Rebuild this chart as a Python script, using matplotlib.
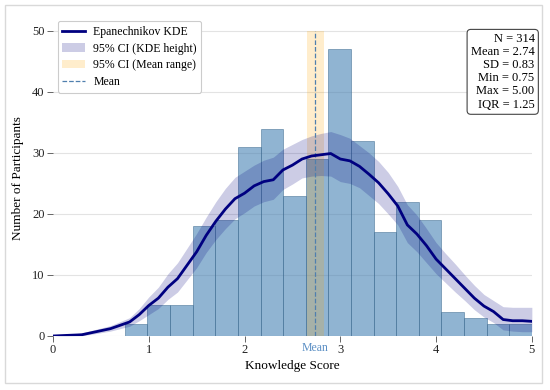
# -*- coding: utf-8 -*-
'''
知識分數分佈圖：直方圖 + Epanechnikov KDE
'''
import numpy as np
import matplotlib
matplotlib.use('Agg')
import matplotlib.pyplot as plt
from matplotlib.lines import Line2D
from matplotlib.patches import Patch, Rectangle

plt.rcParams['font.family'] = ['Liberation Serif', 'DejaVu Serif']

# --------- 直方圖 (18 bins, 0.75 ~ 5.00)
bin_lo = 0.75
bin_hi = 5.0
counts = [2, 5, 5, 18, 19, 31, 34, 23, 29, 47, 32, 17, 22, 19, 4, 3, 2, 2]

# --------- KDE 曲線與 95% CI
kde_x = [0, 0.15, 0.3, 0.45, 0.6, 0.8, 0.9, 1.0, 1.1, 1.2, 1.3, 1.4, 1.5, 1.6,
         1.7, 1.8, 1.9, 2.0, 2.1, 2.2, 2.3, 2.4, 2.5, 2.6, 2.7, 2.8, 2.9, 3.0,
         3.1, 3.2, 3.3, 3.4, 3.5, 3.6, 3.7, 3.8, 3.9, 4.0, 4.1, 4.2, 4.3, 4.4,
         4.5, 4.6, 4.7, 4.8, 4.9, 5.0]
kde_y = [0, 0.1, 0.2, 0.7, 1.2, 2.3, 3.5, 5.0, 6.2, 8.0, 9.4, 11.6, 13.8, 16.5,
         18.8, 20.8, 22.5, 23.4, 24.6, 25.3, 25.6, 27.2, 28.0, 29.0, 29.5, 29.7, 29.9, 29.0,
         28.7, 27.8, 26.5, 25.1, 23.3, 21.3, 18.2, 16.7, 14.8, 12.6, 11.0, 9.4, 7.8, 6.2,
         4.9, 4.0, 2.7, 2.5, 2.5, 2.4]
kde_hi = [0, 0.2, 0.5, 1.1, 1.7, 3.0, 4.5, 6.4, 8.0, 10.2, 12.0, 14.4, 16.8, 19.5,
          22.0, 24.2, 26.0, 27.0, 28.0, 28.8, 29.3, 30.6, 31.4, 32.2, 32.8, 33.2, 33.5, 33.0,
          32.4, 31.2, 30.0, 28.6, 26.8, 24.5, 21.5, 19.8, 17.6, 15.3, 13.5, 11.8, 10.0, 8.3,
          6.8, 5.8, 4.8, 4.7, 4.7, 4.7]
kde_lo = [0, 0, 0.05, 0.4, 0.8, 1.6, 2.5, 3.5, 4.5, 6.0, 7.2, 9.2, 11.2, 13.7,
          15.8, 17.6, 19.2, 20.2, 21.3, 22.0, 22.4, 24.0, 24.9, 25.9, 26.2, 26.3, 26.2, 25.3,
          25.0, 24.3, 23.0, 21.7, 20.0, 18.2, 15.3, 13.8, 12.0, 10.2, 8.7, 7.2, 5.8, 4.3,
          3.1, 2.2, 1.0, 0.8, 0.7, 0.7]

# --------- 統計量
n_total = 314
mean_val = 2.74
sd_val = 0.83
min_val = 0.75
max_val = 5.00
iqr_val = 1.25
mean_ci = [2.65, 2.83]

fig = plt.figure(figsize=(5.5, 3.9), dpi=100)
ax = fig.add_axes([0.0964, 0.1385, 0.8706, 0.8105])

edges = np.linspace(bin_lo, bin_hi, len(counts) + 1)
ax.bar(edges[:-1], counts, width=np.diff(edges), align='edge',
       color='steelblue', alpha=0.6, edgecolor='#3d6a8f', linewidth=0.6, zorder=2)

# 平均值 95% CI
ax.fill_between(mean_ci, 0, 50, color='orange', alpha=0.2, linewidth=0, zorder=3)
ax.plot([mean_val, mean_val], [0, 50], '--', color='#4f7fae', linewidth=0.9, zorder=5)

# KDE + CI
ax.fill_between(kde_x, kde_lo, kde_hi, color='navy', alpha=0.2, linewidth=0, zorder=4)
ax.plot(kde_x, kde_y, '-', color='navy', linewidth=2.0, zorder=6)

ax.set_xlim(0, 5)
ax.set_ylim(0, 51.8)
ax.set_yticks([0, 10, 20, 30, 40, 50])
ax.set_xticks([0, 1, 2, 3, 4, 5])
for s in ax.spines.values():
    s.set_visible(False)
ax.grid(True, axis='y', color='#e3e3e3', linewidth=0.8, zorder=0)
ax.set_axisbelow(True)
ax.tick_params(axis='both', length=4, width=0.7, color='#666666', labelsize=9,
               labelcolor='#222222', pad=2)

ax.set_xlabel('Knowledge Score', fontsize=9.5, labelpad=3)
ax.set_ylabel('Number of Participants', fontsize=9.5, labelpad=6)

ax.annotate('Mean', xy=(mean_val, 0), xycoords=('data', 'axes fraction'),
            xytext=(0, -4), textcoords='offset points', ha='center', va='top',
            fontsize=8.5, color='#5b8fc4')

# 圖例
handles = [Line2D([0], [0], color='navy', linewidth=2),
           Patch(facecolor='navy', alpha=0.2),
           Patch(facecolor='orange', alpha=0.2),
           Line2D([0], [0], color='#4f7fae', linestyle='--', linewidth=0.9)]
labels = ['Epanechnikov KDE', '95% CI (KDE height)', '95% CI (Mean range)', 'Mean']
leg = ax.legend(handles, labels, loc='upper left', bbox_to_anchor=(0.105, 0.946),
                bbox_transform=fig.transFigure, fontsize=8.5, borderaxespad=0,
                handlelength=1.9, labelspacing=0.4, handletextpad=0.7,
                framealpha=1, fancybox=True)
leg.get_frame().set_edgecolor('#cccccc')
leg.get_frame().set_linewidth(0.8)

# 統計量文字框
stats_txt = (f"N = {n_total}\nMean = {mean_val:.2f}\nSD = {sd_val:.2f}\n"
             f"Min = {min_val:.2f}\nMax = {max_val:.2f}\nIQR = {iqr_val:.2f}")
fig.text(0.972, 0.915, stats_txt, ha='right', va='top', fontsize=9, linespacing=1.12,
         bbox=dict(boxstyle='round,pad=0.3', facecolor='white', edgecolor='#444444',
                   linewidth=0.8))

# 外框
fig.patches.append(Rectangle((0.009, 0.018), 0.976, 0.969, transform=fig.transFigure,
                             fill=False, edgecolor='#d9d9d9', linewidth=1))

plt.savefig('out.png', dpi=100)
plt.close()
